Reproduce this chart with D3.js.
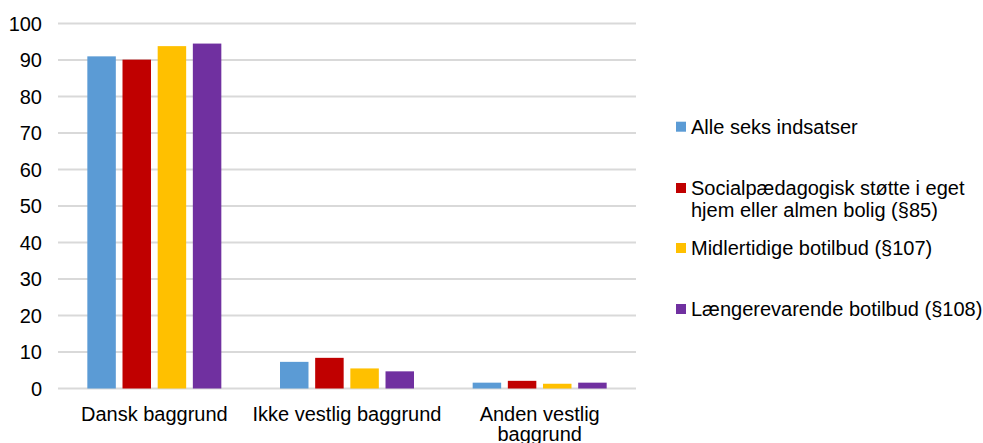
<!DOCTYPE html>
<html>
<head>
<meta charset="utf-8">
<script src="https://cdn.jsdelivr.net/npm/d3@7"></script>
<style>
  body { margin: 0; background: #fff; }
  svg { display: block; font-family: Arial, "Liberation Sans", sans-serif; }
</style>
</head>
<body>
<svg id="chart" width="983" height="443"></svg>
<script>
const categories = ["Dansk baggrund", "Ikke vestlig baggrund", "Anden vestlig baggrund"];
const categoryLines = [["Dansk baggrund"], ["Ikke vestlig baggrund"], ["Anden vestlig", "baggrund"]];
const seriesNames = [
  "Alle seks indsatser",
  "Socialpædagogisk støtte i eget hjem eller almen bolig (§85)",
  "Midlertidige botilbud (§107)",
  "Længerevarende botilbud (§108)"
];
const legendLines = [
  ["Alle seks indsatser"],
  ["Socialpædagogisk støtte i eget", "hjem eller almen bolig (§85)"],
  ["Midlertidige botilbud (§107)"],
  ["Længerevarende botilbud (§108)"]
];
const colors = ["#5B9BD5", "#C00000", "#FFC000", "#7030A0"];
const alleSeks = [91.0, 7.3, 1.6];
const paragraf85 = [90.1, 8.4, 2.1];
const paragraf107 = [93.8, 5.5, 1.3];
const paragraf108 = [94.5, 4.7, 1.6];
const seriesValues = [alleSeks, paragraf85, paragraf107, paragraf108];
const yTicks = [0, 10, 20, 30, 40, 50, 60, 70, 80, 90, 100];

const svg = d3.select("#chart");
const fontSize = 20;

const x = d3.scaleBand().domain(categories).range([58, 636]).paddingInner(0).paddingOuter(0);
const xInner = d3.scaleBand().domain(d3.range(seriesNames.length)).range([-67, 67]).paddingInner(0.19);
const y = d3.scaleLinear().domain([0, 100]).range([388.5, 23.5]);

// gridlines
svg.append("g").selectAll("line").data(yTicks).join("line")
  .attr("x1", 58).attr("x2", 636)
  .attr("y1", d => y(d)).attr("y2", d => y(d))
  .attr("stroke", "#d9d9d9").attr("stroke-width", 2);

// y tick labels
svg.append("g").selectAll("text").data(yTicks).join("text")
  .attr("x", 42).attr("y", d => y(d)).attr("dy", "0.35em")
  .attr("text-anchor", "end").attr("font-size", fontSize).attr("fill", "#000")
  .text(d => d);

// bars
const groups = svg.append("g").selectAll("g").data(categories).join("g")
  .attr("transform", c => `translate(${x(c) + x.bandwidth() / 2},0)`);
groups.selectAll("rect").data((c, ci) => seriesValues.map((vals, si) => ({ si, v: vals[ci] })))
  .join("rect")
  .attr("x", d => xInner(d.si)).attr("width", xInner.bandwidth())
  .attr("y", d => y(d.v)).attr("height", d => y(0) - y(d.v))
  .attr("fill", d => colors[d.si]);

// category labels
const catG = svg.append("g").selectAll("text").data(categories).join("text")
  .attr("text-anchor", "middle").attr("font-size", fontSize).attr("fill", "#000");
catG.each(function (c, i) {
  d3.select(this).selectAll("tspan").data(categoryLines[i]).join("tspan")
    .attr("x", x(c) + x.bandwidth() / 2)
    .attr("y", (d, j) => 420.5 + j * 20.5)
    .text(d => d);
});

// legend
const legendY = [126.7, 188, 248, 309];
const lg = svg.append("g").selectAll("g").data(seriesNames).join("g");
lg.append("rect")
  .attr("x", 676).attr("y", (d, i) => legendY[i] - 5)
  .attr("width", 10).attr("height", 10)
  .attr("fill", (d, i) => colors[i]);
lg.append("text")
  .attr("font-size", fontSize).attr("fill", "#000")
  .each(function (d, i) {
    d3.select(this).selectAll("tspan").data(legendLines[i]).join("tspan")
      .attr("x", 691)
      .attr("y", (t, j) => legendY[i] + j * 22)
      .attr("dy", "0.35em")
      .text(t => t);
  });
</script>
</body>
</html>
